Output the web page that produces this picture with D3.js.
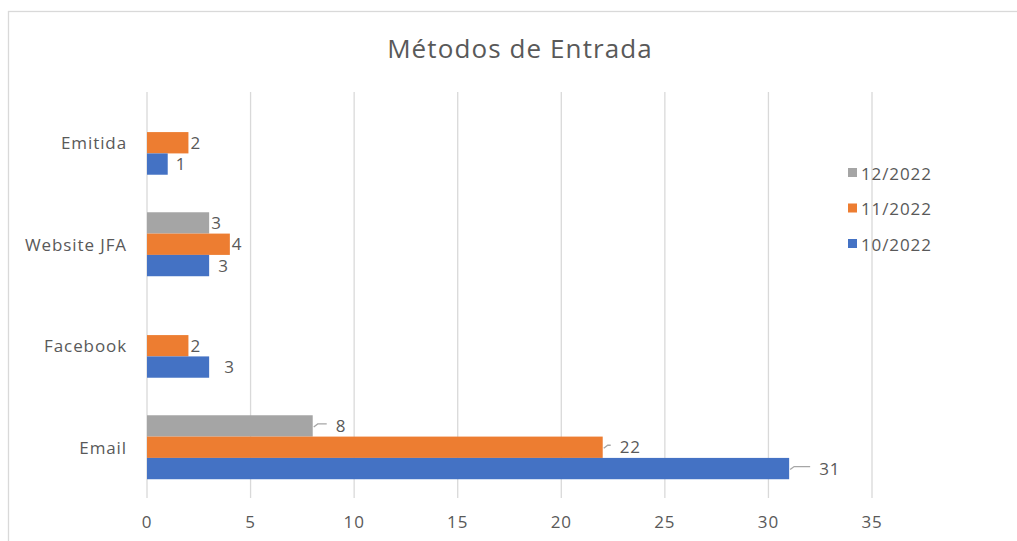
<!DOCTYPE html>
<html lang="pt">
<head>
  <meta charset="UTF-8">
  <title>Métodos de Entrada</title>
  <script src="https://cdn.jsdelivr.net/npm/d3@7"></script>
  <style>
  body{
    margin:0; padding:0;
    background-color:#fff;
  }
  text{
    font-family: "Open Sans", sans-serif;
    fill:#595959;
  }
  .title{ font-size:26px; letter-spacing:1.1px; }
  .catLabel, .tickLabel, .legText, .valLabel{ font-size:17px; letter-spacing:0.9px; }
  .grid line{ stroke:#d9d9d9; stroke-width:1.3; }
  .leader{ stroke:#a6a6a6; stroke-width:1.3; fill:none; }
  </style>
</head>
<body>
<div id="chart"></div>
<script>

let categories = ["Emitida", "Website JFA", "Facebook", "Email"];
let seriesNames = ["12/2022", "11/2022", "10/2022"];
let colors = ["#a5a5a5", "#ed7d31", "#4472c4"];
// valores por série, na ordem das categorias (null = sem valor)
let dez2022 = [null, 3, null, 8];
let nov2022 = [2, 4, 2, 22];
let out2022 = [1, 3, 3, 31];
let xTicks = [0, 5, 10, 15, 20, 25, 30, 35];

let seriesValues = [dez2022, nov2022, out2022];

// deslocamento manual dos rótulos (px), como no Excel
let labelShift = {
  "Emitida|10/2022": 6,
  "Website JFA|10/2022": 7,
  "Facebook|10/2022": 13,
  "Email|12/2022": 21,
  "Email|11/2022": 15,
  "Email|10/2022": 28
};
let leaderCats = ["Email"];

let W = 1017, H = 541;
let svg = d3.select("#chart").append("svg")
  .attr("width", W).attr("height", H);

// moldura
svg.append("rect")
  .attr("x", 8.5).attr("y", 11.5)
  .attr("width", 1030).attr("height", 560)
  .attr("fill", "none").attr("stroke", "#d9d9d9").attr("stroke-width", 1.3);

svg.append("text").attr("class", "title")
  .attr("x", 520).attr("y", 58)
  .style("text-anchor", "middle")
  .text("Métodos de Entrada");

let x = d3.scaleLinear().domain([0, 35]).range([147, 872]);
let y0 = d3.scaleBand().domain(categories).range([92, 498]).padding(0);
let y1 = d3.scaleBand().domain(seriesNames).range([0, y0.bandwidth()])
  .paddingInner(0).paddingOuter(0.88);

// grade
svg.append("g").attr("class", "grid")
  .selectAll("line").data(xTicks).enter().append("line")
  .attr("x1", d => x(d)).attr("x2", d => x(d))
  .attr("y1", 92).attr("y2", 498);

svg.append("g").selectAll("text").data(xTicks).enter().append("text")
  .attr("class", "tickLabel")
  .attr("x", d => x(d)).attr("y", 528)
  .style("text-anchor", "middle")
  .text(d => d);

svg.append("g").selectAll("text").data(categories).enter().append("text")
  .attr("class", "catLabel")
  .attr("x", 127).attr("y", d => y0(d) + y0.bandwidth() / 2 + 6.5)
  .style("text-anchor", "end")
  .text(d => d);

let bars = [];
seriesNames.forEach(function(s, si){
  categories.forEach(function(c, ci){
    let v = seriesValues[si][ci];
    if (v !== null) bars.push({cat: c, series: s, value: v, color: colors[si]});
  });
});

svg.append("g").selectAll("rect").data(bars).enter().append("rect")
  .attr("x", x(0))
  .attr("y", d => y0(d.cat) + y1(d.series))
  .attr("width", d => x(d.value) - x(0))
  .attr("height", y1.bandwidth())
  .attr("fill", d => d.color);

// rótulos de valor
bars.forEach(function(d){
  let shift = labelShift[d.cat + "|" + d.series] || 0;
  let xe = x(d.value);
  let yc = y0(d.cat) + y1(d.series) + y1.bandwidth() / 2;
  if (leaderCats.indexOf(d.cat) >= 0) {
    svg.append("path").attr("class", "leader")
      .attr("d", "M" + (xe + 1) + "," + (yc + 1) + " L" + (xe + 5) + "," + (yc - 2) +
                 " L" + (xe + shift - 7) + "," + (yc - 2));
  }
  svg.append("text").attr("class", "valLabel")
    .attr("x", xe + 2 + shift).attr("y", yc + 6)
    .text(d.value);
});

// legenda
let leg = svg.append("g").selectAll("g").data(seriesNames).enter().append("g")
  .attr("transform", (d, i) => "translate(849," + (173 + i * 35.5) + ")");
leg.append("rect").attr("x", -1).attr("y", -5).attr("width", 9).attr("height", 9)
  .attr("fill", (d, i) => colors[i]);
leg.append("text").attr("class", "legText")
  .attr("x", 12).attr("y", 6.5)
  .text(d => d);

</script>
</body>
</html>
